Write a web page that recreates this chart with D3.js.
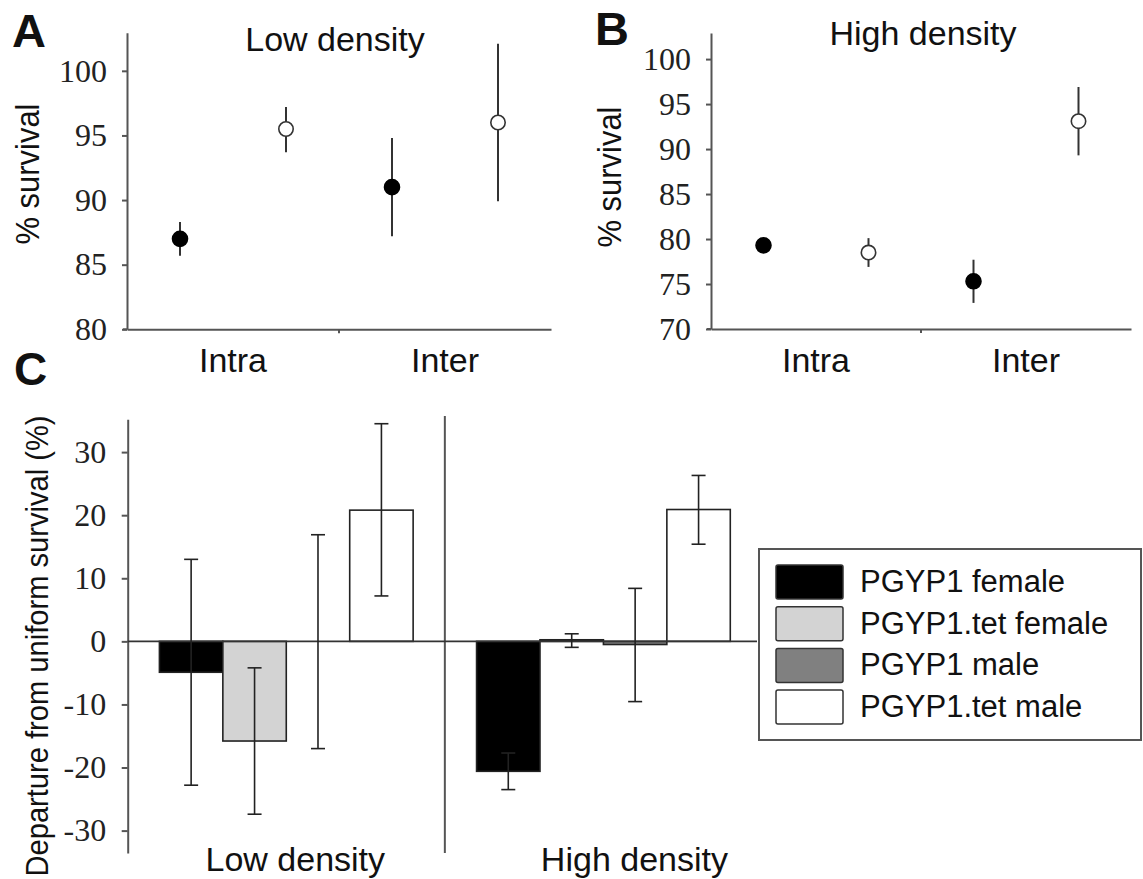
<!DOCTYPE html>
<html>
<head>
<meta charset="utf-8">
<script src="https://cdn.jsdelivr.net/npm/d3@7"></script>
<style>
  body { margin: 0; background: #fff; }
  svg { display: block; }
  .sans { font-family: "Liberation Sans", Arial, sans-serif; fill: #111; }
  .axis path, .axis line { stroke: #555; stroke-width: 2; }
</style>
</head>
<body>
<svg id="fig" width="1143" height="879"></svg>
<script>
// panels A and B: % survival, order = Intra PGYP1, Intra PGYP1.tet, Inter PGYP1, Inter PGYP1.tet
const groups = ["Intra", "Inter"];
const lines = ["PGYP1", "PGYP1.tet"];
const lowMean = [87.0, 95.5, 91.0, 96.0];
const lowUpper = [88.3, 97.2, 94.8, 102.1];
const lowLower = [85.7, 93.7, 87.2, 89.9];
const highMean = [79.3, 78.5, 75.3, 93.1];
const highUpper = [79.8, 80.1, 77.7, 96.9];
const highLower = [78.8, 76.9, 72.9, 89.3];
const lowTicks = [80, 85, 90, 95, 100];
const highTicks = [70, 75, 80, 85, 90, 95, 100];

// panel C: departure from uniform survival (%)
const densities = ["Low density", "High density"];
const sexes = ["PGYP1 female", "PGYP1.tet female", "PGYP1 male", "PGYP1.tet male"];
const lowDeparture = [-4.9, -15.8, 0.0, 20.8];
const lowDepUpper = [13.0, -4.2, 16.9, 34.5];
const lowDepLower = [-22.8, -27.4, -17.0, 7.2];
const highDeparture = [-20.6, 0.25, -0.5, 20.9];
const highDepUpper = [-17.7, 1.2, 8.4, 26.3];
const highDepLower = [-23.5, -0.95, -9.55, 15.4];
const departureTicks = [-30, -20, -10, 0, 10, 20, 30];
const sexFills = ["#000000", "#d3d3d3", "#808080", "#ffffff"];

const serif = '"Liberation Serif", "Times New Roman", Times, serif';
const svg = d3.select("#fig");

function toRows(mean, upper, lower) {
	return mean.map((m, i) => ({
		group: groups[Math.floor(i / 2)],
		line: lines[i % 2],
		key: groups[Math.floor(i / 2)] + "|" + lines[i % 2],
		mean: m,
		hi: upper[i],
		lo: lower[i],
	}));
}

function styleTicks(sel) {
	sel.selectAll("text")
		.style("font-family", serif)
		.style("font-size", "32px")
		.style("fill", "#222");
}

// one dot panel (A or B)
function dotPanel(opts) {
	const { rows, ticks, domain, xRange, yRange, letter, title, axisX } = opts;
	const x = d3.scaleBand().domain(rows.map((d) => d.key)).range(xRange);
	const xg = d3.scaleBand().domain(groups).range(xRange);
	const y = d3.scaleLinear().domain(domain).range(yRange);
	const g = svg.append("g");

	g.append("g")
		.attr("class", "axis")
		.attr("transform", `translate(${xRange[0]},0)`)
		.call(d3.axisLeft(y).tickValues(ticks).tickSize(5).tickPadding(15).tickSizeOuter(0))
		.call(styleTicks);

	const xa = g.append("g")
		.attr("class", "axis xaxis")
		.attr("transform", `translate(0,${yRange[0]})`)
		.call(d3.axisBottom(xg).tickSize(0).tickPadding(19).tickSizeOuter(0));
	xa.selectAll("text")
		.style("font-family", '"Liberation Sans", Arial, sans-serif')
		.style("font-size", "34px")
		.style("fill", "#111");
	// small tick between the two groups
	xa.append("line")
		.attr("x1", xg("Inter")).attr("x2", xg("Inter"))
		.attr("y1", 0).attr("y2", 4);
	xa.append("line")
		.attr("x1", xRange[0] - 4).attr("x2", xRange[0])
		.attr("y1", 0).attr("y2", 0);

	const pts = g.selectAll(".pt").data(rows).enter().append("g").attr("class", "pt");
	pts.append("line")
		.attr("x1", (d) => x(d.key) + x.bandwidth() / 2)
		.attr("x2", (d) => x(d.key) + x.bandwidth() / 2)
		.attr("y1", (d) => y(d.hi))
		.attr("y2", (d) => y(d.lo))
		.attr("stroke", "#333")
		.attr("stroke-width", 2);
	pts.append("circle")
		.attr("cx", (d) => x(d.key) + x.bandwidth() / 2)
		.attr("cy", (d) => y(d.mean))
		.attr("r", (d) => (d.line === "PGYP1" ? 7.5 : 7.2))
		.attr("fill", (d) => (d.line === "PGYP1" ? "#000" : "#fff"))
		.attr("stroke", (d) => (d.line === "PGYP1" ? "#000" : "#333"))
		.attr("stroke-width", 1.6);

	svg.append("text").attr("class", "sans")
		.attr("x", letter.x).attr("y", letter.y)
		.style("font-size", "47px").style("font-weight", "bold")
		.text(letter.t);
	svg.append("text").attr("class", "sans")
		.attr("x", title.x).attr("y", title.y)
		.attr("text-anchor", "middle")
		.style("font-size", "34px")
		.text(title.t);
	svg.append("text").attr("class", "sans")
		.attr("transform", `translate(${axisX.x},${axisX.y}) rotate(-90)`)
		.attr("text-anchor", "middle")
		.attr("textLength", 141).attr("lengthAdjust", "spacingAndGlyphs")
		.style("font-size", "33px")
		.text("% survival");
}

dotPanel({
	rows: toRows(lowMean, lowUpper, lowLower),
	ticks: lowTicks,
	domain: [80, 102.95],
	xRange: [127, 551],
	yRange: [329.3, 32.7],
	letter: { x: 12, y: 47, t: "A" },
	title: { x: 335, y: 51, t: "Low density" },
	axisX: { x: 38.5, y: 174 },
});

dotPanel({
	rows: toRows(highMean, highUpper, highLower),
	ticks: highTicks,
	domain: [70, 102.9],
	xRange: [711, 1131],
	yRange: [329, 33],
	letter: { x: 595, y: 45, t: "B" },
	title: { x: 923, y: 45, t: "High density" },
	axisX: { x: 621, y: 177 },
});

// ---------- panel C ----------
const cLeft = 127.7, cRight = 762, cTop = 419.3, cBottom = 853;
const x0 = d3.scaleBand().domain(densities).range([cLeft, cRight]);
const x1 = d3.scaleBand().domain(sexes).range([0, x0.bandwidth()]).paddingOuter(0.5);
const yC = d3.scaleLinear().domain([-33.55, 35.2]).range([cBottom, cTop]);

const barData = [];
densities.forEach((dens, j) => {
	const vals = j === 0 ? lowDeparture : highDeparture;
	const his = j === 0 ? lowDepUpper : highDepUpper;
	const los = j === 0 ? lowDepLower : highDepLower;
	sexes.forEach((s, i) => {
		barData.push({ density: dens, sex: s, value: vals[i], hi: his[i], lo: los[i], fill: sexFills[i] });
	});
});

const gc = svg.append("g");
gc.append("g")
	.attr("class", "axis")
	.attr("transform", `translate(${cLeft},0)`)
	.call(d3.axisLeft(yC).tickValues(departureTicks).tickSize(6).tickPadding(15.5).tickSizeOuter(0))
	.call(styleTicks)
	.selectAll("text").text((d) => (d < 0 ? "-" + Math.abs(d) : d));

// divider between densities
gc.append("line")
	.attr("x1", x0("High density")).attr("x2", x0("High density"))
	.attr("y1", 416).attr("y2", cBottom)
	.attr("stroke", "#555").attr("stroke-width", 2);

gc.selectAll(".bar").data(barData).enter().append("rect")
	.attr("class", "bar")
	.attr("x", (d) => x0(d.density) + x1(d.sex))
	.attr("width", x1.bandwidth())
	.attr("y", (d) => yC(Math.max(0, d.value)))
	.attr("height", (d) => Math.abs(yC(d.value) - yC(0)))
	.attr("fill", (d) => d.fill)
	.attr("stroke", "#222")
	.attr("stroke-width", 1.6);

// zero line
gc.append("line")
	.attr("x1", cLeft).attr("x2", 757)
	.attr("y1", yC(0)).attr("y2", yC(0))
	.attr("stroke", "#333").attr("stroke-width", 1.6);

const capW = 7;
const eb = gc.selectAll(".eb").data(barData).enter().append("g").attr("class", "eb")
	.attr("transform", (d) => `translate(${x0(d.density) + x1(d.sex) + x1.bandwidth() / 2},0)`)
	.attr("stroke", "#222").attr("stroke-width", 1.6);
eb.append("line").attr("x1", 0).attr("x2", 0).attr("y1", (d) => yC(d.hi)).attr("y2", (d) => yC(d.lo));
eb.append("line").attr("x1", -capW).attr("x2", capW).attr("y1", (d) => yC(d.hi)).attr("y2", (d) => yC(d.hi));
eb.append("line").attr("x1", -capW).attr("x2", capW).attr("y1", (d) => yC(d.lo)).attr("y2", (d) => yC(d.lo));

// group labels under C
const densityLabelShift = [9, 31];
svg.selectAll(".dlab").data(densities).enter().append("text")
	.attr("class", "sans dlab")
	.attr("x", (d, i) => x0(d) + x0.bandwidth() / 2 + densityLabelShift[i])
	.attr("y", 871)
	.attr("text-anchor", "middle")
	.style("font-size", "34px")
	.text((d) => d);

svg.append("text").attr("class", "sans")
	.attr("x", 14).attr("y", 385)
	.style("font-size", "46px").style("font-weight", "bold")
	.text("C");
svg.append("text").attr("class", "sans")
	.attr("transform", `translate(48,646) rotate(-90)`)
	.attr("text-anchor", "middle")
	.attr("textLength", 461).attr("lengthAdjust", "spacingAndGlyphs")
	.style("font-size", "32px")
	.text("Departure from uniform survival (%)");

// legend
const lg = svg.append("g").attr("transform", "translate(759,549)");
lg.append("rect")
	.attr("x", 0).attr("y", 0).attr("width", 382).attr("height", 191)
	.attr("fill", "#fff").attr("stroke", "#555").attr("stroke-width", 2);
const items = lg.selectAll(".li").data(sexes).enter().append("g")
	.attr("class", "li")
	.attr("transform", (d, i) => `translate(0,${16 + i * 41.7})`);
items.append("rect")
	.attr("x", 17).attr("y", 0).attr("width", 67).attr("height", 34).attr("rx", 2)
	.attr("fill", (d, i) => sexFills[i])
	.attr("stroke", "#333").attr("stroke-width", 1.5);
items.append("text").attr("class", "sans")
	.attr("x", 101).attr("y", 27)
	.style("font-size", "31px")
	.text((d) => d);
</script>
</body>
</html>
